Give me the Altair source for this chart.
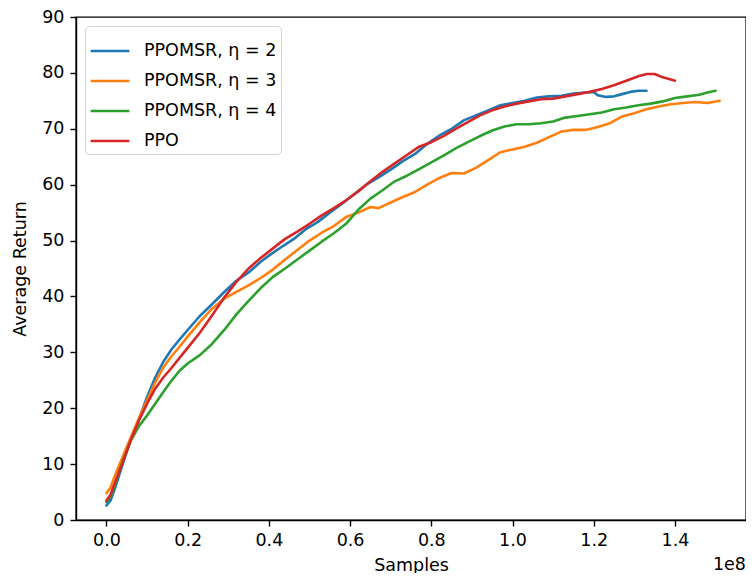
import altair as alt
import pandas as pd

# Samples in units of 1e8
x_eta2 = [0.0, 0.01, 0.02, 0.04, 0.06, 0.08, 0.10, 0.12, 0.14, 0.16, 0.18, 0.20, 0.23, 0.26, 0.29, 0.32,
          0.35, 0.38, 0.40, 0.43, 0.46, 0.49, 0.52, 0.55, 0.58, 0.61, 0.64, 0.67, 0.70, 0.73, 0.76, 0.79,
          0.82, 0.85, 0.88, 0.91, 0.94, 0.97, 1.00, 1.03, 1.06, 1.09, 1.12, 1.15, 1.18, 1.20, 1.21, 1.23,
          1.25, 1.27, 1.29, 1.31, 1.33]
y_eta2 = [2.6, 3.5, 5.5, 10.0, 14.5, 18.0, 22.0, 25.5, 28.3, 30.5, 32.3, 34.0, 36.5, 38.6, 40.8, 42.8,
          44.3, 46.2, 47.3, 48.8, 50.2, 52.0, 53.3, 55.0, 56.6, 58.3, 60.0, 61.3, 62.7, 64.2, 65.5, 67.3,
          68.8, 70.0, 71.5, 72.4, 73.3, 74.2, 74.6, 75.0, 75.6, 75.8, 75.9, 76.3, 76.5, 76.6, 76.0, 75.7,
          75.8, 76.2, 76.6, 76.8, 76.8]

x_eta3 = [0.0, 0.01, 0.02, 0.04, 0.06, 0.08, 0.10, 0.12, 0.14, 0.16, 0.18, 0.20, 0.23, 0.26, 0.29, 0.32,
          0.35, 0.38, 0.41, 0.44, 0.47, 0.50, 0.53, 0.56, 0.59, 0.62, 0.65, 0.67, 0.70, 0.73, 0.76, 0.79,
          0.82, 0.85, 0.88, 0.91, 0.94, 0.97, 1.00, 1.03, 1.06, 1.09, 1.12, 1.15, 1.18, 1.21, 1.24, 1.27,
          1.30, 1.33, 1.36, 1.39, 1.42, 1.45, 1.48, 1.51]
y_eta3 = [4.8, 5.8, 7.8, 11.3, 14.8, 18.2, 21.4, 24.6, 27.3, 29.3, 31.0, 32.8, 35.4, 37.8, 39.6, 40.8,
          42.0, 43.3, 44.8, 46.6, 48.3, 50.0, 51.4, 52.6, 54.2, 55.0, 56.0, 55.8, 56.8, 57.8, 58.7, 60.0,
          61.2, 62.1, 62.0, 63.0, 64.4, 65.8, 66.3, 66.8, 67.5, 68.5, 69.5, 69.8, 69.8, 70.3, 71.0, 72.2,
          72.8, 73.5, 74.0, 74.4, 74.6, 74.8, 74.6, 75.0]

x_eta4 = [0.0, 0.01, 0.02, 0.04, 0.06, 0.08, 0.10, 0.12, 0.14, 0.16, 0.18, 0.20, 0.23, 0.26, 0.29, 0.32,
          0.35, 0.38, 0.41, 0.44, 0.47, 0.50, 0.53, 0.56, 0.59, 0.62, 0.65, 0.68, 0.71, 0.74, 0.77, 0.80,
          0.83, 0.86, 0.89, 0.92, 0.95, 0.98, 1.01, 1.04, 1.07, 1.10, 1.13, 1.16, 1.19, 1.22, 1.25, 1.28,
          1.31, 1.34, 1.37, 1.40, 1.43, 1.46, 1.48, 1.50]
y_eta4 = [3.2, 4.2, 6.2, 10.5, 14.2, 16.8, 18.7, 20.8, 22.9, 24.9, 26.7, 28.0, 29.5, 31.5, 34.0, 36.8,
          39.2, 41.5, 43.5, 45.0, 46.6, 48.2, 49.8, 51.3, 53.0, 55.5, 57.5, 59.0, 60.6, 61.6, 62.8, 64.0,
          65.2, 66.5, 67.6, 68.7, 69.7, 70.4, 70.8, 70.8, 71.0, 71.3, 72.0, 72.3, 72.6, 72.9, 73.5, 73.8,
          74.2, 74.5, 74.9, 75.5, 75.8, 76.1, 76.5, 76.8]

x_ppo = [0.0, 0.01, 0.02, 0.04, 0.06, 0.08, 0.10, 0.12, 0.14, 0.16, 0.18, 0.20, 0.23, 0.26, 0.29, 0.32,
         0.35, 0.38, 0.41, 0.44, 0.47, 0.50, 0.53, 0.56, 0.59, 0.62, 0.65, 0.68, 0.71, 0.74, 0.77, 0.80,
         0.83, 0.86, 0.89, 0.92, 0.95, 0.98, 1.01, 1.04, 1.07, 1.10, 1.13, 1.16, 1.19, 1.22, 1.25, 1.28,
         1.31, 1.33, 1.35, 1.37, 1.39, 1.40]
y_ppo = [3.5, 4.5, 6.5, 10.3, 14.3, 17.8, 20.8, 23.5, 25.5, 27.2, 29.0, 30.8, 33.5, 36.6, 39.8, 42.6,
         45.0, 46.9, 48.6, 50.3, 51.6, 53.0, 54.5, 55.8, 57.2, 58.8, 60.6, 62.3, 63.8, 65.3, 66.8, 67.6,
         68.7, 70.0, 71.2, 72.4, 73.3, 74.0, 74.5, 74.9, 75.3, 75.4, 75.8, 76.2, 76.6, 77.1, 77.8, 78.6,
         79.4, 79.8, 79.8, 79.2, 78.8, 78.6]

series_names = ["PPOMSR, η = 2", "PPOMSR, η = 3", "PPOMSR, η = 4", "PPO"]
series_colors = ["#1f77b4", "#ff7f0e", "#2ca02c", "#d62728"]
x_ticks = [0.0, 0.2, 0.4, 0.6, 0.8, 1.0, 1.2, 1.4]
y_ticks = [0, 10, 20, 30, 40, 50, 60, 70, 80, 90]

rows = []
for name, xs, ys in zip(series_names, [x_eta2, x_eta3, x_eta4, x_ppo], [y_eta2, y_eta3, y_eta4, y_ppo]):
    for i, (a, b) in enumerate(zip(xs, ys)):
        rows.append({"series": name, "samples": a, "ret": b, "idx": i})
df = pd.DataFrame(rows)

FONT = "DejaVu Sans"
FS = 17.5
W, H = 670, 503

lines = alt.Chart(df).mark_line(strokeWidth=2.6, strokeJoin="round", strokeCap="round").encode(
    x=alt.X("samples:Q", scale=alt.Scale(domain=[-0.075, 1.575], nice=False, zero=False),
            axis=alt.Axis(values=x_ticks, format=".1f", title="Samples", grid=False,
                          tickSize=6, labelPadding=5, titleBaseline="alphabetic", titleY=50)),
    y=alt.Y("ret:Q", scale=alt.Scale(domain=[0, 90], nice=False),
            axis=alt.Axis(values=y_ticks, title="Average Return", grid=False,
                          tickSize=6, labelPadding=6, titlePadding=12)),
    color=alt.Color("series:N", sort=series_names,
                    scale=alt.Scale(domain=series_names, range=series_colors),
                    legend=alt.Legend(title=None, orient="top-left", offset=9,
                                      symbolType="stroke", symbolSize=1500,
                                      symbolStrokeWidth=2.6, labelFontSize=FS,
                                      labelFont=FONT, labelColor="#000000",
                                      labelOffset=13, rowPadding=0,
                                      padding=4, strokeColor="#d0d0d0",
                                      fillColor="rgba(255,255,255,0.8)", cornerRadius=4)),
    order="idx:Q",
)

offset_label = alt.Chart(pd.DataFrame({"t": ["1e8"]})).mark_text(
    align="right", baseline="alphabetic", font=FONT, fontSize=FS, color="#000000"
).encode(x=alt.value(W), y=alt.value(H + 50), text="t:N")

chart = alt.layer(lines, offset_label).properties(
    width=W, height=H,
    autosize=alt.AutoSizeParams(type="none"),
    padding={"left": 68, "top": 9, "right": 0, "bottom": 53},
).configure_view(stroke="#000000", strokeWidth=1.4).configure_axis(
    labelFont=FONT, labelFontSize=FS, labelColor="#000000",
    titleFont=FONT, titleFontSize=FS, titleColor="#000000", titleFontWeight="normal",
    domainColor="#000000", domainWidth=1.4, tickColor="#000000", tickWidth=1.4,
)

chart.save("out.html", embed_options={"renderer": "svg", "actions": False})
